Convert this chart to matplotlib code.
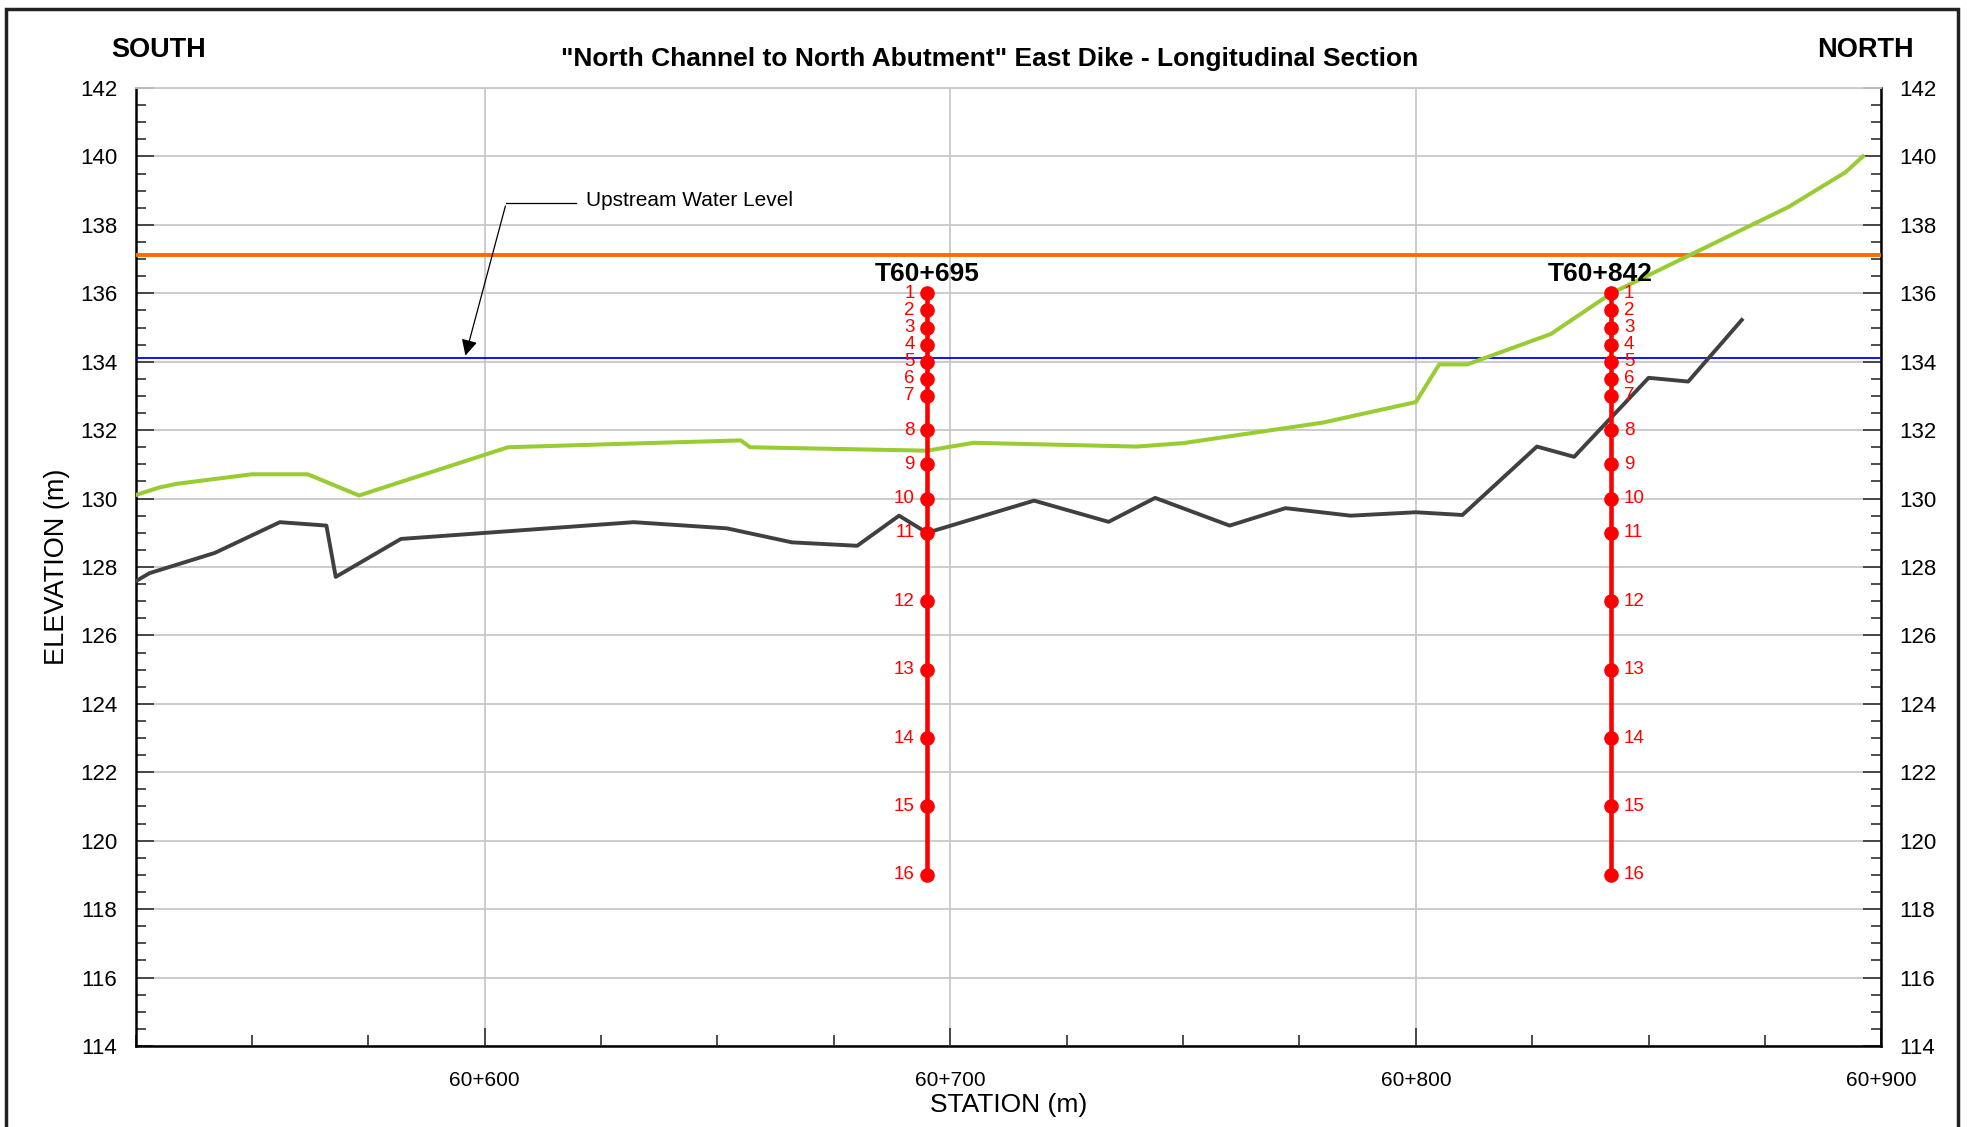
import numpy as np
import matplotlib.pyplot as plt
from matplotlib.patches import Rectangle
from matplotlib.ticker import MultipleLocator, FuncFormatter

plt.rcParams['font.family'] = ['Liberation Sans', 'DejaVu Sans']

# Ground / dike profiles (station m, elevation m)
crest_st = [525, 530, 533.8, 550, 562, 573, 605, 632, 655, 657, 695, 705, 740, 750,
            780, 800, 805, 811, 829, 842, 880, 892.3, 896]
crest_el = [130.1, 130.32, 130.43, 130.71, 130.71, 130.09, 131.5, 131.61, 131.7, 131.5,
            131.4, 131.63, 131.52, 131.62, 132.22, 132.82, 133.92, 133.92, 134.81, 136.0,
            138.52, 139.54, 140.0]

ground_st = [525, 528, 542, 556, 566, 568, 582, 632, 652, 666, 680, 689, 695, 718, 734,
             744, 760, 772, 786, 800, 810, 826, 834, 850, 858.5, 870]
ground_el = [127.58, 127.82, 128.41, 129.31, 129.21, 127.71, 128.82, 129.31, 129.13, 128.72,
             128.62, 129.5, 129.0, 129.94, 129.32, 130.02, 129.21, 129.72, 129.5, 129.6,
             129.52, 131.52, 131.22, 133.53, 133.42, 135.22]

upstream_level = 137.12
blue_level = 134.1

# Instrument boreholes
holes = ['T60+695', 'T60+842']
hole_st = [695, 842]
sensor_el = [136, 135.5, 135, 134.5, 134, 133.5, 133, 132, 131, 130, 129, 127, 125, 123, 121, 119]
sensor_ids = list(range(1, 17))

fig = plt.figure(figsize=(19.67, 11.27), dpi=100)
ax = fig.add_axes([0.0689, 0.0719, 0.8876, 0.8500])

ax.set_xlim(525, 900)
ax.set_ylim(114, 142)

ax.axhline(upstream_level, color='#FF6A00', lw=2.8, zorder=3)
ax.axhline(blue_level, color='#0000FF', lw=1.3, zorder=3)
ax.plot(crest_st, crest_el, color='#99CC33', lw=2.9, zorder=4)
ax.plot(ground_st, ground_el, color='#404040', lw=2.8, zorder=4)

for name, st, side in zip(holes, hole_st, ['left', 'right']):
    ax.plot([st] * len(sensor_el), sensor_el, color='#FF0000', lw=3.3, marker='o',
            markersize=9.5, zorder=6)
    dx = -9 if side == 'left' else 9
    ha = 'right' if side == 'left' else 'left'
    for n, el in zip(sensor_ids, sensor_el):
        ax.annotate(str(n), (st, el), xytext=(dx, 0), textcoords='offset points',
                    ha=ha, va='center', color='#FF0000', fontsize=13.5, zorder=7)
    off = 0 if side == 'left' else -8
    ax.annotate(name, (st, 136.56), xytext=(off, 0), textcoords='offset points',
                ha='center', va='center', fontsize=19, fontweight='bold', zorder=7)

# Upstream water level callout
ax.plot([619.7, 604.6], [138.63, 138.63], color='black', lw=0.9)
ax.annotate('', xy=(595.7, 134.1), xytext=(604.6, 138.63),
            arrowprops=dict(arrowstyle='-|>', color='black', lw=0.9, mutation_scale=24))
ax.text(621.8, 138.7, 'Upstream Water Level', fontsize=15, ha='left', va='center')

# Grid and ticks
ax.yaxis.set_major_locator(MultipleLocator(2))
ax.yaxis.set_minor_locator(MultipleLocator(0.5))
ax.xaxis.set_major_locator(MultipleLocator(100))
ax.xaxis.set_minor_locator(MultipleLocator(25))
ax.xaxis.set_major_formatter(FuncFormatter(lambda v, p: '60+%03d' % v))
ax.grid(True, which='major', color='#C8C8C8', lw=1.3)
ax.set_axisbelow(True)

ax.tick_params(axis='y', which='both', direction='in', left=True, right=True,
               labelleft=True, labelright=True, labelsize=16, pad=13, color='#303030')
ax.tick_params(axis='y', which='major', length=13, width=1.2)
ax.tick_params(axis='y', which='minor', length=7, width=1.2)
ax.tick_params(axis='x', which='both', direction='in', top=False, labelsize=15, pad=18,
               color='#303030')
ax.tick_params(axis='x', which='major', length=13, width=1.2)
ax.tick_params(axis='x', which='minor', length=8, width=1.2)

for s in ['left', 'right', 'bottom']:
    ax.spines[s].set_color('black')
    ax.spines[s].set_linewidth(1.8)
ax.spines['top'].set_color('#C8C8C8')
ax.spines['top'].set_linewidth(1.3)

ax.set_xlabel('STATION (m)', fontsize=19, labelpad=2)
ax.set_ylabel('ELEVATION (m)', fontsize=19.5, labelpad=7)

fig.text(0.503, 0.948, '"North Channel to North Abutment" East Dike - Longitudinal Section',
         ha='center', va='center', fontsize=19, fontweight='bold')
fig.text(159 / 1967, 0.956, 'SOUTH', ha='center', va='center', fontsize=19.5, fontweight='bold')
fig.text(1865 / 1967, 0.956, 'NORTH', ha='center', va='center', fontsize=19.5, fontweight='bold')

fig.patches.append(Rectangle((6 / 1967, -0.02), 1952 / 1967, 1.02 - 9 / 1127,
                             transform=fig.transFigure, fill=False, lw=2.5,
                             edgecolor='#222222'))

fig.savefig('out.png', dpi=100)
